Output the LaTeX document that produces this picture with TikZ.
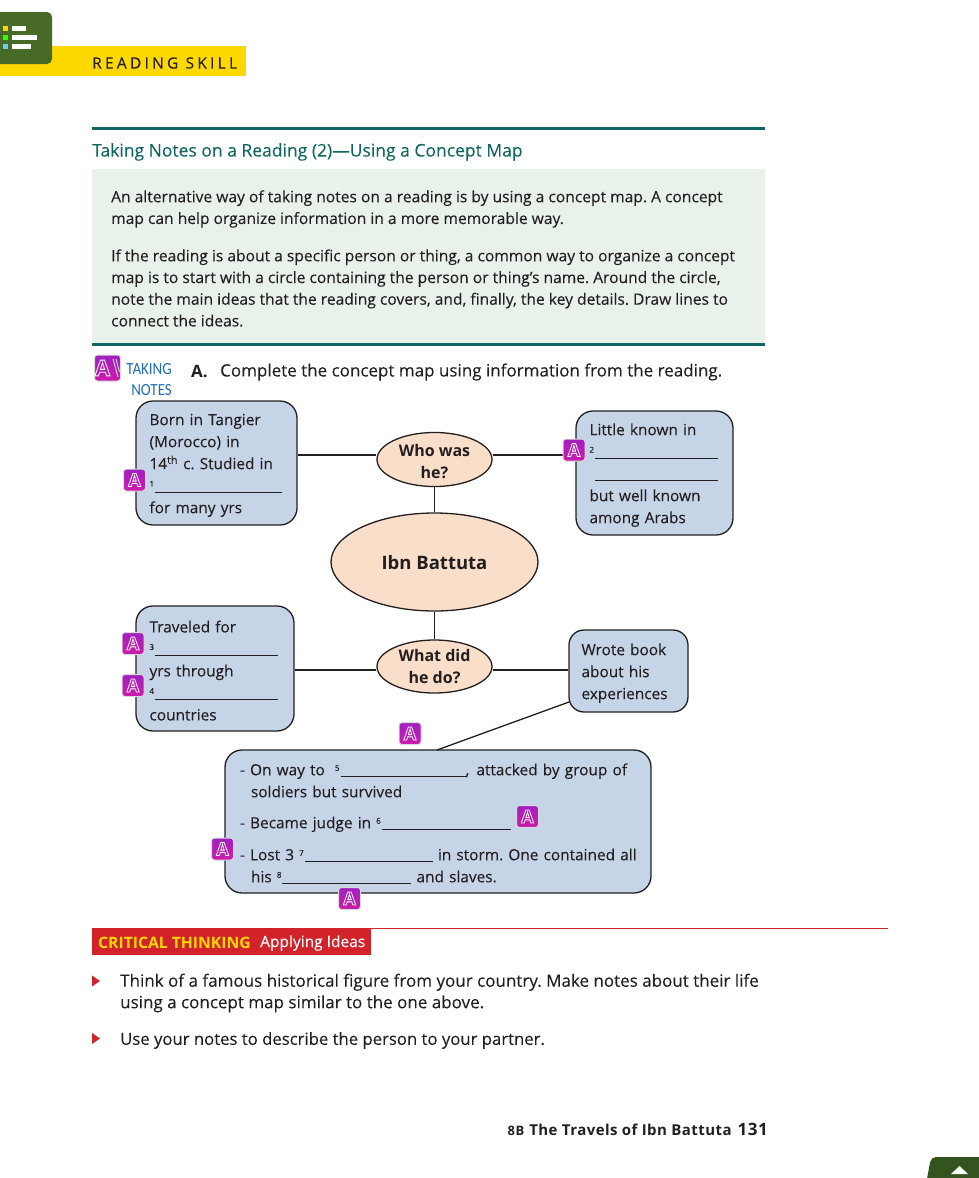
\documentclass[tikz,border=0pt]{standalone}
\usepackage{fontspec}
\setmainfont[UprightFeatures={FakeBold=0.08}]{Open Sans}
\newfontfamily\narrowfont[FakeStretch=0.88]{Carlito}
\usetikzlibrary{shapes.geometric,positioning,calc}
\definecolor{skillGreen}{HTML}{476B26}
\definecolor{skillYellow}{HTML}{FFD800}
\definecolor{tealRule}{HTML}{0F6664}
\definecolor{paleGreen}{HTML}{E8F2EB}
\definecolor{boxBlue}{HTML}{C6D4E8}
\definecolor{ovalPeach}{HTML}{F9DEC9}
\definecolor{inkDark}{HTML}{231F20}
\definecolor{notesBlue}{HTML}{1F6DB5}
\definecolor{thinkRed}{HTML}{D2232A}
\definecolor{tabGreen}{HTML}{33541F}
\definecolor{badgeMagenta}{HTML}{CC1CAC}
\definecolor{badgePurple}{HTML}{A020C0}
\newcommand{\bodysize}{\fontsize{15.4}{22}\selectfont}
\newcommand{\lift}{\rule{0pt}{16pt}}
\newcommand{\gap}[2]{\raisebox{4.5pt}{\fontsize{8}{8}\selectfont #1}\kern1pt\rule[-1.5pt]{#2pt}{0.6pt}}
\newcommand{\outlineA}{\special{pdf:code q 1 Tr 1 1 1 RG 0.8 w}A\special{pdf:code Q}}
\frenchspacing
\begin{document}
\begin{tikzpicture}[
  x=1pt,y=-1pt,
  page/.style={inner sep=0pt,text=inkDark,align=left,anchor=west,font=\fontsize{15.6}{21.7}\selectfont},
  infobox/.style={draw=inkDark,fill=boxBlue,line width=1.3pt,rounded corners=17pt,inner xsep=13.5pt,inner ysep=0pt,align=left,text=inkDark,font=\bodysize},
  oval/.style={ellipse,draw=inkDark,fill=ovalPeach,line width=1.3pt,inner sep=0pt,align=center,text=inkDark},
  badge/.style={rounded corners=3pt,top color=badgePurple,bottom color=badgeMagenta,draw=black!15,line width=1pt,minimum size=22pt,inner sep=0pt,font=\fontsize{18}{18}\selectfont\bfseries},
  link/.style={draw=inkDark,line width=1.3pt}
]
  \useasboundingbox (0,0) rectangle (978,1178);

  % --- Reading skill tag (top left) ---
  \fill[skillYellow] (0,46) rectangle (246,76);
  \fill[skillGreen,rounded corners=5pt] (-10,12) rectangle (52,64);
  \fill[skillYellow] (3,25.5) rectangle (8,30.5);
  \fill[green!80!yellow] (3,34.5) rectangle (8,39.5);
  \fill[cyan!60!white] (3,43.5) rectangle (8,48.5);
  \fill[white] (12,25.5) rectangle (26,30.5);
  \fill[white] (12,34.5) rectangle (37,39.5);
  \fill[white] (12,43.5) rectangle (31,48.5);
  \node[page,font=\fontsize{15.5}{18}\selectfont\addfontfeature{LetterSpace=21}] (skill) at (92,63) {READING SKILL};

  % --- Skill panel ---
  \fill[paleGreen] (92,169) rectangle (765,343);
  \fill[tealRule] (92,126.5) rectangle (765,130);
  \fill[tealRule] (92,342.5) rectangle (765,346);
  \node[page,text=tealRule,font=\fontsize{17.5}{20}\selectfont] (title) at (92,152) {Taking Notes on a Reading (2)---Using a Concept Map};
  \node[page] (para1) at (111,209) {An alternative way of taking notes on a reading is by using a concept map. A concept\\map can help organize information in a more memorable way.};
  \node[page] (para2) at (111,288) {If the reading is about a specific person or thing, a common way to organize a concept\\map is to start with a circle containing the person or thing's name. Around the circle,\\note the main ideas that the reading covers, and, finally, the key details. Draw lines to\\connect the ideas.};

  % --- Exercise heading ---
  \node[page,align=right,anchor=east,text=notesBlue,font=\narrowfont\fontsize{17}{21}\selectfont] (notes) at (172,380) {TAKING\\NOTES};
  \node[page,font=\fontsize{17}{20}\selectfont\bfseries] (exA) at (191,372) {A.};
  \node[page,font=\fontsize{17}{20}\selectfont] (exText) at (220,372) {Complete the concept map using information from the reading.};

  % --- Concept map: ovals ---
  \node[oval,minimum width=207pt,minimum height=98pt,font=\fontsize{18.5}{22}\selectfont\bfseries] (ibn) at (434.5,562) {\lift Ibn Battuta};
  \node[oval,minimum width=115pt,minimum height=53pt,font=\fontsize{16}{22}\selectfont\bfseries] (who) at (434.5,459.5) {\lift Who was\\he?};
  \node[oval,minimum width=115pt,minimum height=53pt,font=\fontsize{16}{22}\selectfont\bfseries] (what) at (434.5,666.5) {What did\\he do?};

  % --- Concept map: detail boxes ---
  \node[infobox,text width=134pt,minimum height=124pt] (born) at (216.5,463) {\lift Born in Tangier\\(Morocco) in\\14\textsuperscript{th} c. Studied in\\\gap{1}{127}\\for many yrs};
  \node[infobox,text width=130pt,minimum height=124pt] (known) at (654.5,473) {\lift Little known in\\\gap{2}{123}\\\hspace*{5.5pt}\rule[-1.5pt]{123pt}{0.6pt}\\but well known\\among Arabs};
  \node[infobox,text width=131pt,minimum height=125pt] (travel) at (215,668.5) {\lift Traveled for\\\gap{3}{123}\\yrs through\\\gap{4}{123}\\countries};
  \node[infobox,text width=94pt,minimum height=82pt,inner xsep=12.5pt,rounded corners=15pt] (book) at (628.5,671) {\lift Wrote book\\about his\\experiences};
  \node[infobox,text width=396pt,minimum height=143pt,inner xsep=15pt] (events) at (438,821.5) {\lift \mbox{- On way to\hspace{5pt} \gap{5}{125}, \hspace{2pt}attacked by group of}\\\hspace*{11pt}soldiers but survived\\[9pt]\mbox{- Became judge in \gap{6}{129}}\\[10pt]\mbox{- Lost 3 \gap{7}{128} in storm. One contained all}\\\hspace*{11pt}\mbox{his \gap{8}{129} and slaves.}};

  % --- Concept map: connectors ---
  \coordinate (whoRow) at (434.5,455);
  \coordinate (whatRow) at (434.5,670);
  \coordinate (bookFoot) at (569,702);
  \coordinate (eventsTop) at (437,750);
  \draw[link] (born.east |- whoRow) -- (who.west |- whoRow);
  \draw[link] (who.east |- whoRow) -- (known.west |- whoRow);
  \draw[link] (who) -- (ibn);
  \draw[link] (ibn) -- (what);
  \draw[link] (travel.east |- whatRow) -- (what.west |- whatRow);
  \draw[link] (what.east |- whatRow) -- (book.west |- whatRow);
  \draw[link] (bookFoot) -- (eventsTop);

  % --- Answer badges ---
  \node[badge,minimum size=26pt,font=\fontsize{22}{22}\selectfont\bfseries] (badgeTop) at (107.5,368) {\hspace*{-5pt}\outlineA\hspace*{5pt}};
  \draw[white,line width=0.7pt] (113,359) -- (118,377);
  \draw[white,line width=0.7pt] (116,359) -- (119.5,372);
  \node[badge] (badge1) at (134.5,480) {\outlineA};
  \node[badge] (badge2) at (574,450) {\outlineA};
  \node[badge] (badge3) at (133,643.5) {\outlineA};
  \node[badge] (badge4) at (133,685.5) {\outlineA};
  \node[badge] (badge5) at (410,733.5) {\outlineA};
  \node[badge] (badge6) at (527.5,816.5) {\outlineA};
  \node[badge] (badge7) at (222.5,849) {\outlineA};
  \node[badge] (badge8) at (349.5,898.5) {\outlineA};

  % --- Critical thinking ---
  \draw[thinkRed,line width=0.8pt] (92,928.5) -- (888,928.5);
  \fill[thinkRed] (92,928) rectangle (371,955);
  \node[page,text=skillYellow,font=\fontsize{15.7}{18}\selectfont\bfseries] (critical) at (98,943) {CRITICAL THINKING};
  \node[page,text=white,font=\fontsize{15.5}{18}\selectfont] (applying) at (260,943) {Applying Ideas};
  \fill[thinkRed] (92,975.5) -- (100,981) -- (92,986.5) -- cycle;
  \fill[thinkRed] (92,1033) -- (100,1038.5) -- (92,1044) -- cycle;
  \node[page,font=\fontsize{17}{21.5}\selectfont] (bullet1) at (120,993) {Think of a famous historical figure from your country. Make notes about their life\\using a concept map similar to the one above.};
  \node[page,font=\fontsize{16.7}{21.5}\selectfont] (bullet2) at (120,1040.5) {Use your notes to describe the person to your partner.};

  % --- Footer ---
  \node[page,anchor=east,font=\fontsize{15}{18}\selectfont\bfseries\addfontfeature{LetterSpace=3}] (footer) at (768,1129) {{\fontsize{13}{18}\selectfont 8B}\hspace{5pt}The Travels of Ibn Battuta\hspace{6pt}{\fontsize{17}{18}\selectfont 131}};
  \fill[tabGreen,rounded corners=5pt] (925,1190) -- (931,1157) -- (990,1157) -- (990,1190) -- cycle;
  \fill[white] (951,1174) -- (959.5,1166) -- (968,1174) -- cycle;
\end{tikzpicture}
\end{document}
